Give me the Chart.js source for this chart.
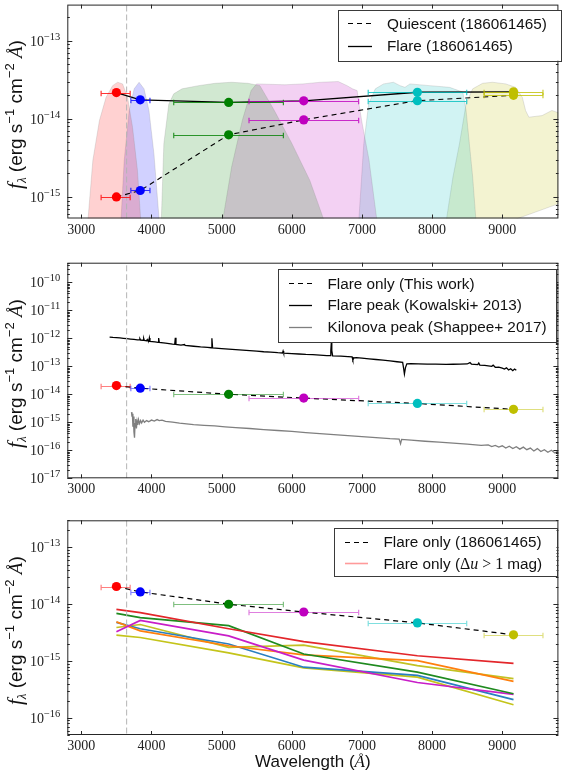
<!DOCTYPE html>
<html>
<head>
<meta charset="utf-8">
<title>Flare SEDs</title>
<script src="https://cdn.jsdelivr.net/npm/chart.js@4.4.1/dist/chart.umd.min.js"></script>
<style>
	html, body { margin: 0; padding: 0; background: #fff; }
	#page { position: relative; width: 563px; height: 776px; overflow: hidden; }
	canvas { position: absolute; left: 0; }
</style>
</head>
<body>
<div id="page">
	<canvas id="sedChart" width="563" height="250" style="top:0px"></canvas>
	<canvas id="specChart" width="563" height="258" style="top:250px"></canvas>
	<canvas id="sampleChart" width="563" height="268" style="top:508px"></canvas>
</div>
<script>
const SANS = '"Liberation Sans", Arial, sans-serif'
const SERIF = '"Liberation Serif", "Times New Roman", serif'

// x axis (wavelength, Angstrom)
const waveMin = 2800
const waveMax = 9800
const waveTicks = [3000, 4000, 5000, 6000, 7000, 8000, 9000]
const balmerJump = 3646

// SkyMapper bands u v g r i z
const bandColors = ['#ff0000', '#0000ff', '#008000', '#bf00bf', '#00bfbf', '#bfbf00']
const bandWave = [3500, 3840, 5100, 6170, 7790, 9160]
const bandLo = [3282, 3706, 4317, 5390, 7089, 8741]
const bandHi = [3696, 3978, 5880, 6953, 8493, 9580]

// fluxes (erg s^-1 cm^-2 A^-1)
const quiescentFlux = [1.0e-15, 1.21e-15, 6.25e-15, 9.7e-15, 1.71e-14, 2.0e-14]
const flareFlux = [2.17e-14, 1.75e-14, 1.62e-14, 1.70e-14, 2.19e-14, 2.22e-14]
const flareOnlyFlux = [2.05e-14, 1.65e-14, 1.0e-14, 7.3e-15, 4.7e-15, 2.9e-15]

// filter curves, scaled for display: [wavelength, value]
const filterU = [[3094, 5e-16], [3164, 2.93e-15], [3258, 9.5e-15], [3353, 1.89e-14], [3446, 2.66e-14], [3517, 2.94e-14], [3588, 2.8e-14], [3659, 1.89e-14], [3730, 7.8e-15], [3800, 2.19e-15], [3847, 5e-16]]
const filterV = [[3565, 5e-16], [3611, 2.93e-15], [3682, 1.28e-14], [3753, 2.42e-14], [3823, 2.94e-14], [3894, 2.42e-14], [3964, 1.28e-14], [4035, 3.57e-15], [4110, 5e-16]]
const filterG = [[4140, 5e-16], [4176, 4.8e-15], [4247, 1.55e-14], [4317, 2.09e-14], [4435, 2.42e-14], [4670, 2.66e-14], [4906, 2.85e-14], [5140, 2.94e-14], [5376, 2.85e-14], [5546, 2.66e-14], [5751, 1.28e-14], [6003, 4.8e-15], [6257, 1.63e-15], [6460, 5e-16]]
const filterR = [[5015, 5e-16], [5142, 2.41e-15], [5294, 9.5e-15], [5420, 2.3e-14], [5497, 2.8e-14], [5902, 2.73e-14], [6155, 2.8e-14], [6409, 2.94e-14], [6662, 3.0e-14], [6788, 2.66e-14], [6865, 2.42e-14], [6931, 2.3e-14], [6960, 1.5e-14], [7000, 9e-15], [7100, 3e-15], [7213, 5e-16]]
const filterI = [[6955, 5e-16], [7026, 4.8e-15], [7096, 1.55e-14], [7190, 2.42e-14], [7308, 2.8e-14], [7449, 2.94e-14], [7543, 2.66e-14], [7613, 2.53e-14], [7684, 2.8e-14], [7966, 2.66e-14], [8249, 2.53e-14], [8437, 2.2e-14], [8484, 1.28e-14], [8531, 4.8e-15], [8578, 1.8e-15], [8625, 5e-16]]
const filterZ = [[8202, 5e-16], [8297, 1.8e-15], [8390, 4.8e-15], [8484, 1.55e-14], [8578, 2.42e-14], [8720, 2.85e-14], [8861, 2.94e-14], [9049, 2.8e-14], [9190, 2.53e-14], [9285, 1.89e-14], [9332, 1.28e-14], [9379, 1.05e-14], [9567, 1.1e-14], [9708, 1.28e-14], [9850, 1.15e-14], [9850, 8.5e-16], [9142, 5e-16]]
const filterFills = ['rgba(255,0,0,0.18)', 'rgba(0,0,255,0.18)', 'rgba(0,128,0,0.18)', 'rgba(191,0,191,0.18)', 'rgba(0,191,191,0.18)', 'rgba(191,191,0,0.18)']

// flare peak spectrum (Kowalski+ 2013)
const kowalskiPeak = [[3403, 1.10e-12], [3450, 1.07e-12], [3500, 1.05e-12], [3550, 1.03e-12], [3600, 1.0e-12], [3650, 9.7e-13], [3700, 9.4e-13], [3750, 9.1e-13], [3800, 8.8e-13],
	[3826, 8.7e-13], [3835, 9.6e-13], [3844, 8.6e-13], [3880, 8.5e-13], [3889, 9.9e-13], [3898, 8.4e-13], [3930, 8.2e-13], [3940, 9.0e-13], [3950, 8.0e-13],
	[3962, 7.9e-13], [3970, 1.03e-12], [3978, 7.8e-13], [4050, 7.4e-13], [4093, 7.2e-13], [4102, 1.02e-12], [4111, 7.1e-13], [4200, 6.7e-13], [4300, 6.2e-13],
	[4331, 6.1e-13], [4340, 1.05e-12], [4349, 6.0e-13], [4420, 5.7e-13], [4471, 6.0e-13], [4480, 5.6e-13], [4600, 5.2e-13], [4700, 4.9e-13], [4800, 4.7e-13],
	[4851, 4.6e-13], [4861, 1.0e-12], [4871, 4.5e-13], [5000, 4.3e-13], [5100, 4.1e-13], [5200, 3.95e-13], [5300, 3.8e-13], [5400, 3.6e-13], [5500, 3.45e-13],
	[5600, 3.3e-13], [5700, 3.2e-13], [5800, 3.05e-13], [5868, 2.98e-13], [5876, 3.5e-13], [5884, 2.95e-13], [6000, 2.85e-13], [6100, 2.75e-13], [6200, 2.65e-13],
	[6300, 2.6e-13], [6400, 2.5e-13], [6500, 2.4e-13], [6545, 2.4e-13], [6556, 3.5e-13], [6563, 6.8e-13], [6570, 3.6e-13], [6582, 2.35e-13], [6700, 2.3e-13],
	[6800, 2.2e-13], [6860, 2.15e-13], [6870, 1.7e-13], [6885, 2.0e-13], [6920, 2.05e-13], [7000, 1.95e-13], [7100, 1.85e-13], [7200, 1.75e-13], [7300, 1.65e-13],
	[7400, 1.55e-13], [7500, 1.45e-13], [7580, 1.38e-13], [7595, 8e-14], [7605, 5.3e-14], [7620, 9e-14], [7640, 1.22e-13], [7700, 1.25e-13], [7800, 1.22e-13],
	[7930, 1.2e-13], [8050, 1.19e-13], [8200, 1.17e-13], [8300, 1.18e-13], [8400, 1.2e-13], [8500, 1.21e-13], [8540, 1.35e-13], [8560, 1.2e-13], [8600, 1.17e-13],
	[8650, 1.14e-13], [8665, 1.3e-13], [8680, 1.1e-13], [8750, 1.07e-13], [8800, 1.04e-13], [8850, 1.0e-13], [8870, 1.1e-13], [8900, 9.2e-14], [8950, 9.4e-14],
	[9000, 8.6e-14], [9030, 8.0e-14], [9060, 8.8e-14], [9090, 7.4e-14], [9120, 8.2e-14], [9150, 7.0e-14], [9175, 8.0e-14], [9200, 7.2e-14]]

// kilonova peak spectrum (Shappee+ 2017)
const kilonovaPeak = [[3715, 2.3e-15], [3722, 1.6e-15], [3728, 2.0e-15], [3735, 7e-16], [3742, 1.6e-15], [3750, 4.5e-16], [3758, 2.8e-16], [3766, 9e-16],
	[3775, 1.3e-15], [3785, 6e-16], [3795, 1.1e-15], [3805, 8e-16], [3815, 1.25e-15], [3830, 9e-16], [3845, 1.15e-15], [3860, 9.5e-16], [3880, 1.2e-15],
	[3900, 1.0e-15], [3930, 1.15e-15], [3960, 1.05e-15], [4000, 1.2e-15], [4040, 1.1e-15], [4080, 1.25e-15], [4110, 1.15e-15], [4150, 1.2e-15], [4200, 1.08e-15],
	[4300, 1.02e-15], [4400, 9.4e-16], [4500, 8.8e-16], [4600, 8.3e-16], [4750, 7.8e-16], [4900, 7.4e-16], [5050, 6.9e-16], [5200, 6.5e-16], [5400, 6.0e-16],
	[5600, 5.5e-16], [5800, 5.1e-16], [6000, 4.7e-16], [6200, 4.3e-16], [6400, 3.95e-16], [6600, 3.65e-16], [6800, 3.35e-16], [7000, 3.1e-16], [7200, 2.85e-16],
	[7400, 2.6e-16], [7530, 2.5e-16], [7550, 1.7e-16], [7565, 2.45e-16], [7700, 2.3e-16], [7900, 2.1e-16], [8100, 1.95e-16], [8300, 1.8e-16], [8500, 1.65e-16],
	[8700, 1.5e-16], [8800, 1.55e-16], [8850, 1.35e-16], [8900, 1.5e-16], [8950, 1.3e-16], [9000, 1.45e-16], [9050, 1.2e-16], [9100, 1.4e-16], [9150, 1.15e-16],
	[9200, 1.35e-16], [9250, 1.1e-16], [9300, 1.3e-16], [9350, 1.05e-16], [9400, 1.2e-16], [9450, 9.5e-17], [9500, 1.15e-16], [9550, 9e-17], [9600, 1.05e-16],
	[9650, 8.5e-17], [9700, 1.0e-16], [9750, 8e-17], [9800, 9.5e-17], [9850, 8e-17]]

// other flares with delta u > 1 mag, flare-only fluxes at bandWave
const sampleRed = [8.15e-15, 7.1e-15, 3.7e-15, 2.2e-15, 1.24e-15, 9.1e-16]
const sampleGreen = [6.9e-15, 5.8e-15, 4.2e-15, 1.33e-15, 6.4e-16, 2.66e-16]
const sampleMagenta = [3.27e-15, 5.2e-15, 2.78e-15, 1.04e-15, 4.2e-16, 2.6e-16]
const sampleOrange = [4.9e-15, 3.4e-15, 1.86e-15, 1.29e-15, 1.02e-15, 4.4e-16]
const sampleBlue = [4.8e-15, 3.7e-15, 2.0e-15, 7.8e-16, 5.6e-16, 2.1e-16]
const sampleOlive = [3.9e-15, 4.4e-15, 1.74e-15, 1.9e-15, 8.3e-16, 4.9e-16]
const sampleOlive2 = [2.86e-15, 2.6e-15, 1.39e-15, 7.6e-16, 5.2e-16, 1.7e-16]

const pts = (xs, ys) => xs.map((x, i) => ({ x, y: ys[i] }))
const pairs = arr => arr.map(([x, y]) => ({ x, y }))

const DASH = [5, 4]

function markers(ys, errAlpha) {
	return {
		data: pts(bandWave, ys),
		showLine: false,
		pointRadius: 4.6,
		pointBorderWidth: 0,
		pointBackgroundColor: bandColors,
		pointBorderColor: bandColors,
		xLo: bandLo,
		xHi: bandHi,
		errAlpha: errAlpha,
		order: 0,
	}
}

function curve(data, color, width, dash, order) {
	return {
		data: data,
		borderColor: color,
		borderWidth: width,
		borderDash: dash || [],
		pointRadius: 0,
		fill: false,
		tension: 0,
		order: order,
	}
}

function balmer(yMin, yMax) {
	return curve(pts([balmerJump, balmerJump], [yMin, yMax]), '#b4b4b4', 1, [6, 3], 2)
}

function filter(arr, i) {
	return {
		data: pairs(arr),
		borderColor: 'rgba(120,120,120,0.25)',
		borderWidth: 0.8,
		backgroundColor: filterFills[i],
		fill: 'shape',
		pointRadius: 0,
		tension: 0,
		order: 5,
	}
}

// x error bars, drawn just before the marker set
const errorBars = {
	id: 'errorBars',
	beforeDatasetDraw(chart, args) {
		const ds = chart.data.datasets[args.index]
		if (!ds.xLo) return
		const { ctx } = chart
		const xs = chart.scales.x
		const ys = chart.scales.y
		ctx.save()
		ctx.lineWidth = 1.2
		ctx.globalAlpha = ds.errAlpha
		ds.data.forEach((p, i) => {
			const py = Math.round(ys.getPixelForValue(p.y)) + 0.5
			const x0 = xs.getPixelForValue(ds.xLo[i])
			const x1 = xs.getPixelForValue(ds.xHi[i])
			ctx.strokeStyle = bandColors[i]
			ctx.beginPath()
			ctx.moveTo(x0, py); ctx.lineTo(x1, py)
			ctx.moveTo(x0, py - 2.7); ctx.lineTo(x0, py + 2.7)
			ctx.moveTo(x1, py - 2.7); ctx.lineTo(x1, py + 2.7)
			ctx.stroke()
		})
		ctx.restore()
	},
}

function richText(ctx, parts, x, y, align) {
	let w = 0
	for (const p of parts) {
		ctx.font = p.font
		p.w = ctx.measureText(p.t).width
		w += p.w
	}
	let cx = align === 'center' ? x - w / 2 : x
	for (const p of parts) {
		ctx.font = p.font
		ctx.fillText(p.t, cx, y + (p.dy || 0))
		cx += p.w
	}
}

const yTitle = [
	{ t: 'f', font: `italic 21px ${SERIF}` },
	{ t: 'λ', font: `italic 13px ${SERIF}`, dy: 4 },
	{ t: ' (erg s', font: `19px ${SANS}` },
	{ t: '−1', font: `13px ${SANS}`, dy: -8 },
	{ t: ' cm', font: `19px ${SANS}` },
	{ t: '−2', font: `13px ${SANS}`, dy: -8 },
	{ t: ' ', font: `19px ${SANS}` },
	{ t: 'Å', font: `italic 19px ${SERIF}` },
	{ t: ')', font: `19px ${SANS}` },
]

const xTitle = [
	{ t: 'Wavelength (', font: `17px ${SANS}` },
	{ t: 'Å', font: `italic 17px ${SERIF}` },
	{ t: ')', font: `17px ${SANS}` },
]

// frame, inward ticks, tick labels, axis titles and the boxed legend
const decor = {
	id: 'decor',
	afterDraw(chart, args, opts) {
		const { ctx, chartArea: a } = chart
		const xs = chart.scales.x
		const ys = chart.scales.y
		ctx.save()
		ctx.strokeStyle = '#262626'
		ctx.lineWidth = 1
		ctx.beginPath()
		for (const t of waveTicks) {
			const px = Math.round(xs.getPixelForValue(t)) + 0.5
			ctx.moveTo(px, a.bottom); ctx.lineTo(px, a.bottom - 4)
			ctx.moveTo(px, a.top); ctx.lineTo(px, a.top + 4)
		}
		const e0 = Math.floor(Math.log10(ys.min))
		const e1 = Math.ceil(Math.log10(ys.max))
		for (let e = e0; e <= e1; e++) {
			for (let m = 1; m < 10; m++) {
				const v = m * Math.pow(10, e)
				if (v < ys.min * 0.999 || v > ys.max * 1.001) continue
				const py = Math.round(ys.getPixelForValue(v)) + 0.5
				const len = m === 1 ? 5 : 2.5
				ctx.moveTo(a.left, py); ctx.lineTo(a.left + len, py)
				ctx.moveTo(a.right, py); ctx.lineTo(a.right - len, py)
			}
		}
		ctx.stroke()
		ctx.strokeRect(a.left + 0.5, a.top + 0.5, a.width - 1, a.height - 1)

		// tick labels
		ctx.fillStyle = '#222'
		ctx.textBaseline = 'alphabetic'
		ctx.textAlign = 'center'
		ctx.font = `14px ${SERIF}`
		for (const t of waveTicks) {
			ctx.fillText(String(t), xs.getPixelForValue(t), a.bottom + 15)
		}
		ctx.textAlign = 'left'
		for (let e = e0; e <= e1; e++) {
			const v = Math.pow(10, e)
			if (v < ys.min * 0.999 || v > ys.max * 1.001) continue
			const py = ys.getPixelForValue(v)
			const sup = '−' + Math.abs(e)
			ctx.font = `10.5px ${SERIF}`
			const ws = ctx.measureText(sup).width
			ctx.font = `14px ${SERIF}`
			const wb = ctx.measureText('10').width
			const x0 = a.left - 7 - ws - wb
			ctx.fillText('10', x0, py + 5)
			ctx.font = `10.5px ${SERIF}`
			ctx.fillText(sup, x0 + wb, py - 1)
		}

		// axis titles
		ctx.fillStyle = '#111'
		ctx.save()
		ctx.translate(22, (a.top + a.bottom) / 2 + 3)
		ctx.rotate(-Math.PI / 2)
		richText(ctx, yTitle, 0, 0, 'center')
		ctx.restore()
		if (opts.xTitle) {
			richText(ctx, xTitle, (a.left + a.right) / 2, a.bottom + 32, 'center')
		}

		// legend
		const lg = opts.legend
		ctx.fillStyle = '#fff'
		ctx.fillRect(lg.box[0], lg.box[1], lg.box[2], lg.box[3])
		ctx.strokeStyle = '#3a3a3a'
		ctx.lineWidth = 1
		ctx.strokeRect(Math.round(lg.box[0]) + 0.5, Math.round(lg.box[1]) + 0.5, Math.round(lg.box[2]), Math.round(lg.box[3]))
		lg.items.forEach((it, i) => {
			const ry = lg.rows[i]
			ctx.save()
			ctx.strokeStyle = it.color
			ctx.lineWidth = it.width || 1.3
			ctx.setLineDash(it.dash || [])
			ctx.beginPath()
			ctx.moveTo(lg.sample[0], Math.round(ry) + 0.5)
			ctx.lineTo(lg.sample[1], Math.round(ry) + 0.5)
			ctx.stroke()
			ctx.restore()
			ctx.fillStyle = '#111'
			ctx.textBaseline = 'middle'
			const parts = it.parts || [{ t: it.text, font: `15.3px ${SANS}` }]
			richText(ctx, parts, lg.textX, ry + 1, 'left')
		})
		ctx.restore()
	},
}

function baseOptions(yMin, yMax, pad, decorOpts) {
	return {
		responsive: false,
		animation: false,
		events: [],
		layout: { padding: pad },
		scales: {
			x: { type: 'linear', display: false, min: waveMin, max: waveMax },
			y: { type: 'logarithmic', display: false, min: yMin, max: yMax },
		},
		plugins: {
			legend: { display: false },
			tooltip: { enabled: false },
			decor: decorOpts,
		},
	}
}

// panel 1: quiescent vs flare photometry with filter curves
const sedMin = 5.3e-16
const sedMax = 2.9e-13
new Chart(document.getElementById('sedChart'), {
	type: 'line',
	data: {
		datasets: [
			markers(flareFlux, 0.8),
			markers(quiescentFlux, 0.8),
			curve(pts(bandWave, flareFlux), '#000', 1.3, null, 1),
			curve(pts(bandWave, quiescentFlux), '#000', 1.1, DASH, 1),
			balmer(sedMin, sedMax),
			filter(filterU, 0), filter(filterV, 1), filter(filterG, 2),
			filter(filterR, 3), filter(filterI, 4), filter(filterZ, 5),
		],
	},
	options: baseOptions(sedMin, sedMax, { top: 4, right: 1, bottom: 31.5, left: 67.3 }, {
		legend: {
			box: [337.5, 10, 223.4, 50.7], sample: [348, 372], textX: 387, rows: [23.3, 46],
			items: [
				{ text: 'Quiescent (186061465)', color: '#000', dash: DASH, width: 1.1 },
				{ text: 'Flare (186061465)', color: '#000' },
			],
		},
	}),
	plugins: [errorBars, decor],
})

// panel 2: flare-only SED against published spectra
const specMin = 1e-17
const specMax = 5e-10
new Chart(document.getElementById('specChart'), {
	type: 'line',
	data: {
		datasets: [
			markers(flareOnlyFlux, 0.5),
			curve(pts(bandWave, flareOnlyFlux), '#000', 1.2, DASH, 1),
			curve(pairs(kowalskiPeak), '#000', 1.3, null, 3),
			curve(pairs(kilonovaPeak), '#7f7f7f', 1.3, null, 3),
			balmer(specMin, specMax),
		],
	},
	options: baseOptions(specMin, specMax, { top: 12.7, right: 1, bottom: 29.7, left: 67.3 }, {
		legend: {
			box: [278, 19, 278, 73.3], sample: [289, 312], textX: 327.5, rows: [33.3, 55, 76.7],
			items: [
				{ text: 'Flare only (This work)', color: '#000', dash: DASH, width: 1.2 },
				{ text: 'Flare peak (Kowalski+ 2013)', color: '#000' },
				{ text: 'Kilonova peak (Shappee+ 2017)', color: '#7f7f7f' },
			],
		},
	}),
	plugins: [errorBars, decor],
})

// panel 3: other large-amplitude flares
const sampleMin = 5.3e-17
const sampleMax = 3e-13
const sampleSets = [
	[sampleRed, '#e3262a'], [sampleGreen, '#1f8a1f'], [sampleMagenta, '#c81ec8'],
	[sampleOrange, '#ff7f0e'], [sampleBlue, '#2a7fc0'], [sampleOlive, '#c2c224'], [sampleOlive2, '#c4c41a'],
]
new Chart(document.getElementById('sampleChart'), {
	type: 'line',
	data: {
		datasets: [
			markers(flareOnlyFlux, 0.5),
			curve(pts(bandWave, flareOnlyFlux), '#000', 1.2, DASH, 1),
			...sampleSets.map(([ys, c]) => curve(pts(bandWave, ys), c, 1.7, null, 3)),
			balmer(sampleMin, sampleMax),
		],
	},
	options: baseOptions(sampleMin, sampleMax, { top: 12.3, right: 1, bottom: 41, left: 67.3 }, {
		xTitle: true,
		legend: {
			box: [334, 20.3, 222.5, 48.4], sample: [345, 368], textX: 383.5, rows: [33.7, 55.3],
			items: [
				{ text: 'Flare only (186061465)', color: '#000', dash: DASH, width: 1.2 },
				{
					color: '#ff9a9a', width: 1.6,
					parts: [
						{ t: 'Flare only (', font: `15.3px ${SANS}` },
						{ t: 'Δ', font: `16px ${SERIF}` },
						{ t: 'u', font: `italic 16px ${SERIF}` },
						{ t: ' > 1 ', font: `16px ${SERIF}` },
						{ t: 'mag)', font: `15.3px ${SANS}` },
					],
				},
			],
		},
	}),
	plugins: [errorBars, decor],
})
</script>
</body>
</html>
